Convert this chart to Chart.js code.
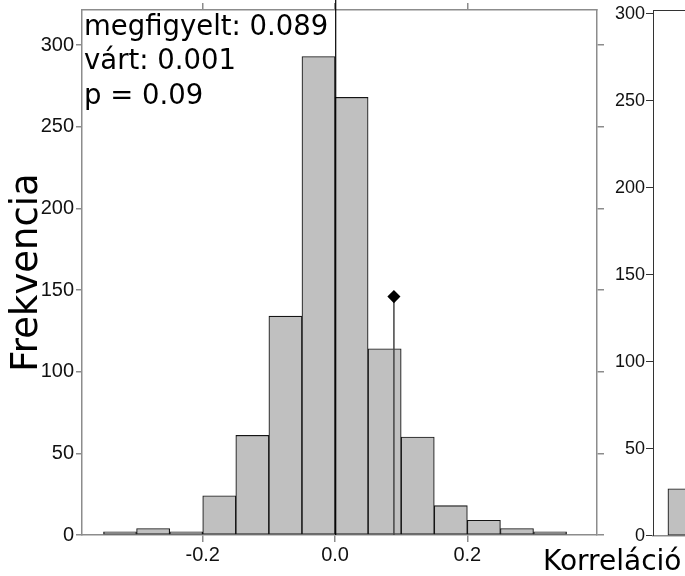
<!DOCTYPE html>
<html>
<head>
<meta charset="utf-8">
<script src="https://cdn.jsdelivr.net/npm/chart.js@4/dist/chart.umd.min.js"></script>
<style>
  html, body { margin: 0; padding: 0; background: #fff; }
  #wrap { position: relative; width: 685px; height: 576px; overflow: hidden; }
  #main { position: absolute; left: 0; top: 0; }
  #side { position: absolute; left: 560px; top: 0; }
</style>
</head>
<body>
<div id="wrap">
  <canvas id="main" width="685" height="576"></canvas>
  <canvas id="side" width="608" height="576"></canvas>
</div>
<script>
// histogram of permuted correlations (bin width 0.05)
const binCenters = [-0.325, -0.275, -0.225, -0.175, -0.125, -0.075, -0.025,
                    0.025, 0.075, 0.125, 0.175, 0.225, 0.275, 0.325];
const counts = [2, 4, 2, 24, 61, 134, 293, 268, 114, 60, 18, 9, 4, 2];
const xTicks = [-0.2, 0.0, 0.2];
const yTicks = [0, 50, 100, 150, 200, 250, 300];

const observed = 0.089;
const observedMarkY = 146;
const expected = 0.001;
const expectedTopY = 328;
const notes = ["megfigyelt: 0.089", "várt: 0.001", "p = 0.09"];

const yTitle = "Frekvencia";
const xTitle = "Korreláció";

// only the first bar of the next panel is visible
const sideCenters = [-0.335];
const sideCounts = [27];

const GRAY = "#8c8c8c";
const DARK = "#333";
Chart.defaults.font.family = '"Liberation Sans", Arial, sans-serif';
Chart.defaults.color = "#111";

const setTicks = (vals) => (s) => { s.ticks = vals.map((v) => ({ value: v })); };
const fitBox = (size) => (s) => {
  if (s.isHorizontal()) s.height = size; else s.width = size;
  s.paddingTop = s.paddingBottom = s.paddingLeft = s.paddingRight = 0;
};

const notesPlugin = {
  id: "notes",
  afterDraw(chart) {
    const ctx = chart.ctx;
    const area = chart.chartArea;
    ctx.save();
    ctx.fillStyle = "#000";
    ctx.textBaseline = "alphabetic";
    ctx.font = '27.5px "DejaVu Sans"';
    notes.forEach((t, i) => ctx.fillText(t, area.left + 2, area.top + 25 + i * 34.3));
    ctx.font = '28px "DejaVu Sans"';
    ctx.fillText(xTitle, 543, 570);
    ctx.restore();
  },
};

new Chart(document.getElementById("main"), {
  type: "bar",
  data: {
    datasets: [
      {
        type: "line",
        data: [{ x: expected, y: 0 }, { x: expected, y: expectedTopY }],
        borderColor: "#000",
        borderWidth: 1.2,
        pointRadius: 0,
        clip: false,
        order: 1,
      },
      {
        type: "line",
        data: [{ x: observed, y: 0 }, { x: observed, y: observedMarkY }],
        borderColor: "#444",
        borderWidth: 1.5,
        pointRadius: [0, 5.5],
        pointStyle: "rectRot",
        pointBackgroundColor: "#000",
        pointBorderColor: "#000",
        order: 1,
      },
      {
        type: "bar",
        data: binCenters.map((c, i) => ({ x: c, y: counts[i] })),
        backgroundColor: "#c0c0c0",
        borderColor: "#151515",
        borderWidth: 1.1,
        borderSkipped: false,
        barPercentage: 1,
        categoryPercentage: 1,
        order: 3,
      },
    ],
  },
  options: {
    responsive: false,
    animation: false,
    layout: { padding: 0 },
    plugins: { legend: { display: false }, tooltip: { enabled: false } },
    scales: {
      x: {
        type: "linear", position: "bottom", min: -0.3825, max: 0.396, offset: false,
        afterBuildTicks: setTicks(xTicks), afterFit: fitBox(41),
        ticks: { callback: (v) => v.toFixed(1), font: { size: 20 }, padding: 1, maxRotation: 0, autoSkip: false },
        grid: { offset: false, drawOnChartArea: false, tickLength: 7, color: GRAY, lineWidth: 1.5 },
        border: { color: GRAY, width: 1.5 },
      },
      x2: {
        type: "linear", position: "top", min: -0.3825, max: 0.396, offset: false,
        afterBuildTicks: setTicks(xTicks), afterFit: fitBox(10),
        ticks: { display: false },
        grid: { offset: false, drawOnChartArea: false, tickLength: 7, color: GRAY, lineWidth: 1.5 },
        border: { color: GRAY, width: 1.5 },
      },
      y: {
        type: "linear", position: "left", min: 0, max: 321.5,
        afterBuildTicks: setTicks(yTicks), afterFit: fitBox(82),
        ticks: { font: { size: 20 }, padding: 2 },
        grid: { drawOnChartArea: false, tickLength: 6, color: GRAY, lineWidth: 1.5 },
        border: { color: GRAY, width: 1.5 },
        title: {
          display: true, text: yTitle, color: "#000",
          font: { family: '"DejaVu Sans"', size: 37 }, padding: { top: 5, bottom: 0 },
        },
      },
      y2: {
        type: "linear", position: "right", min: 0, max: 321.5,
        afterBuildTicks: setTicks(yTicks), afterFit: fitBox(88),
        ticks: { display: false },
        grid: { drawOnChartArea: false, tickLength: 7, color: GRAY, lineWidth: 1.5 },
        border: { color: GRAY, width: 1.5 },
      },
    },
  },
  plugins: [notesPlugin],
});

new Chart(document.getElementById("side"), {
  type: "bar",
  data: {
    datasets: [
      {
        data: sideCenters.map((c, i) => ({ x: c, y: sideCounts[i] })),
        backgroundColor: "#c0c0c0",
        borderColor: "#151515",
        borderWidth: 1.1,
        borderSkipped: false,
        barThickness: 33,
      },
    ],
  },
  options: {
    responsive: false,
    animation: false,
    layout: { padding: 0 },
    plugins: { legend: { display: false }, tooltip: { enabled: false } },
    scales: {
      x: {
        type: "linear", position: "bottom", min: -0.3825, max: 0.396, offset: false,
        afterBuildTicks: setTicks(xTicks), afterFit: fitBox(40.3),
        ticks: { display: false },
        grid: { display: false },
        border: { color: GRAY, width: 1.5 },
      },
      x2: {
        type: "linear", position: "top", min: -0.3825, max: 0.396, offset: false,
        afterFit: fitBox(10),
        ticks: { display: false },
        grid: { display: false },
        border: { color: DARK, width: 1 },
      },
      y: {
        type: "linear", position: "left", min: 0, max: 302.3,
        afterBuildTicks: setTicks(yTicks), afterFit: fitBox(93),
        ticks: { font: { size: 18 }, padding: 1 },
        grid: { drawOnChartArea: false, tickLength: 7, color: DARK, lineWidth: 1 },
        border: { color: DARK, width: 1 },
      },
    },
  },
});
</script>
</body>
</html>
